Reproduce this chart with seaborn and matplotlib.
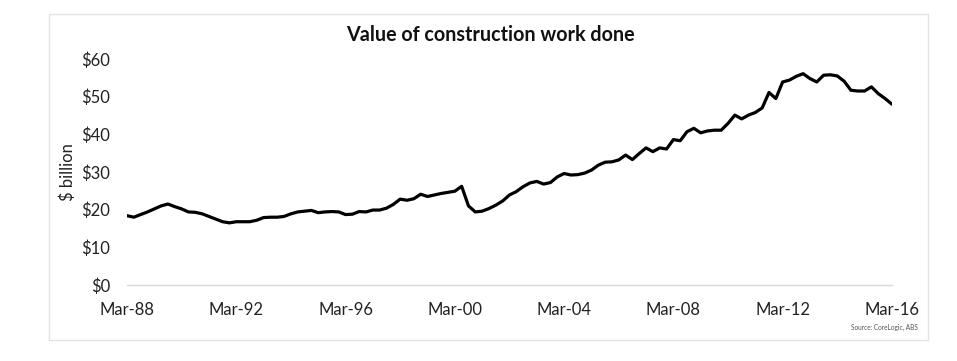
import numpy as np
import pandas as pd
import seaborn as sns
import matplotlib.pyplot as plt
from matplotlib.patches import Rectangle

# Quarterly value of construction work done, $ billion (Mar-88 .. Mar-16)
values = [
    18.4, 18.0, 18.7, 19.4, 20.2, 21.0, 21.5, 20.8, 20.2, 19.4,
    19.3, 18.9, 18.2, 17.5, 16.8, 16.5, 16.8, 16.8, 16.8, 17.2,
    17.9, 18.0, 18.0, 18.2, 18.9, 19.4, 19.6, 19.8, 19.2, 19.4,
    19.5, 19.4, 18.7, 18.8, 19.5, 19.4, 19.9, 19.9, 20.4, 21.4,
    22.8, 22.5, 22.9, 24.1, 23.5, 23.9, 24.3, 24.6, 24.9, 26.2,
    21.0, 19.4, 19.6, 20.3, 21.2, 22.3, 23.9, 24.8, 26.1, 27.1,
    27.5, 26.8, 27.2, 28.7, 29.6, 29.2, 29.3, 29.7, 30.5, 31.8,
    32.6, 32.7, 33.2, 34.5, 33.3, 34.9, 36.4, 35.4, 36.4, 36.1,
    38.6, 38.3, 40.7, 41.6, 40.4, 40.9, 41.1, 41.1, 42.9, 45.1,
    44.1, 45.1, 45.8, 47.0, 51.1, 49.5, 53.9, 54.4, 55.4, 56.1,
    54.8, 53.9, 55.7, 55.8, 55.5, 54.1, 51.7, 51.5, 51.5, 52.6,
    50.8, 49.5, 48.0,
]
quarters = np.arange(len(values))
tick_labels = ["Mar-88", "Mar-92", "Mar-96", "Mar-00", "Mar-04", "Mar-08", "Mar-12", "Mar-16"]
y_ticks = [0, 10, 20, 30, 40, 50, 60]

df = pd.DataFrame({"quarter": quarters, "value": values})

sns.set_style("white")
plt.rcParams["font.family"] = ["Lato", "DejaVu Sans"]

fig = plt.figure(figsize=(9.57, 3.61), dpi=100)
ax = fig.add_axes([0.1327, 0.2105, 0.7993, 0.6261])

sns.lineplot(data=df, x="quarter", y="value", color="black", linewidth=2.3, ax=ax)

ax.set_xlim(0, len(values) - 1)
ax.set_ylim(0, 60)
ax.set_xticks(quarters[::16])
ax.set_xticklabels(tick_labels, fontsize=12, color="#222222")
ax.set_yticks(y_ticks)
ax.set_yticklabels([f"${v}" for v in y_ticks], fontsize=12, color="#222222")
ax.set_xlabel("")
ax.set_ylabel("$ billion", fontsize=12, color="#222222", labelpad=4)

for s in ["top", "right", "left"]:
    ax.spines[s].set_visible(False)
ax.spines["bottom"].set_color("#d9d9d9")
ax.spines["bottom"].set_linewidth(1)
ax.tick_params(axis="x", direction="out", length=5, color="#d9d9d9", width=1, pad=7)
ax.tick_params(axis="y", length=0, pad=12)

fig.text(0.512, 0.903, "Value of construction work done", ha="center", va="center",
         fontsize=14.2, fontweight="bold", color="#111111")
fig.text(0.959, 0.092, "Source: CoreLogic, ABS", ha="right", va="center",
         fontsize=4.7, color="#555555")

# light grey frame around the chart
fig.patches.append(Rectangle((49 / 957, 1 - 340 / 361), (928 - 49) / 957, (340 - 14) / 361,
                             transform=fig.transFigure, fill=False,
                             edgecolor="#e3e3e3", linewidth=1))

fig.savefig("out.png", dpi=100)
